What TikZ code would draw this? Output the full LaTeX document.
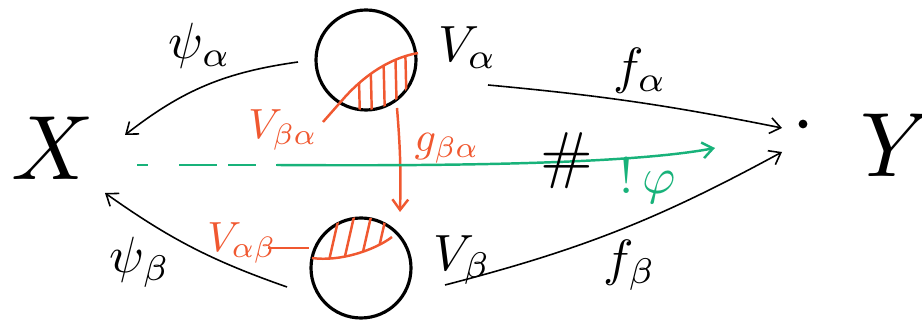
\documentclass[tikz,border=0pt]{standalone}
\usetikzlibrary{arrows.meta,calc}
\definecolor{penred}{RGB}{240,88,48}
\definecolor{pengreen}{RGB}{24,178,122}
\begin{document}
\begin{tikzpicture}[>={Straight Barb[length=6pt,width=9pt]},
	  ink/.style={line width=0.9pt},
	  redink/.style={line width=1.4pt,penred},
	  lab/.style={scale=2.9},
	  redlab/.style={scale=2.4,penred},
	  biglab/.style={scale=5.2},
	  set/.style={circle,draw,line width=1.8pt,minimum size=2cm,inner sep=0pt}]
	  \useasboundingbox (0,0) rectangle (18.44,-6.42);
	  % the two open sets
	  \node[set] (Va) at (7.32,-1.20) {};
	  \node[set] (Vb) at (7.22,-5.36) {};
	  \node[lab] (la) at (9.35,-0.95) {$V_\alpha$};
	  \node[lab] (lb) at (9.25,-5.20) {$V_\beta$};
	  % the spaces
	  \node[biglab] (X) at (1.05,-2.96) {$X$};
	  \node[biglab] (Y) at (17.95,-2.90) {$Y$};
	  \node[circle,fill,inner sep=0pt,minimum size=5pt] (pt) at (16.06,-2.48) {};
	  % maps to X
	  \coordinate (psa) at (5.96,-1.24);
	  \coordinate (psb) at (5.74,-5.74);
	  \coordinate (Xa) at (2.50,-2.70);
	  \coordinate (Xb) at (2.10,-3.86);
	  \draw[ink,->] (psa) to[out=188,in=38] (Xa);
	  \draw[ink,->] (psb) to[bend left=8] (Xb);
	  \node[lab] (psilab) at (4.00,-0.92) {$\psi_\alpha$};
	  \node[lab] (psiblab) at (2.80,-5.24) {$\psi_\beta$};
	  % maps to Y
	  \coordinate (fa) at (9.76,-1.70);
	  \coordinate (fb) at (8.90,-5.70);
	  \coordinate (Ya) at (15.64,-2.56);
	  \coordinate (Yb) at (15.64,-3.04);
	  \draw[ink,->] (fa) to[bend left=3] (Ya);
	  \draw[ink,->] (fb) to[bend right=7] (Yb);
	  \node[lab] (falab) at (12.80,-1.42) {$f_\alpha$};
	  \node[lab] (fblab) at (12.60,-5.30) {$f_\beta$};
	  % overlap in V_alpha
	  \node[redlab] (Vba) at (5.66,-2.60) {$V_{\beta\alpha}$};
	  \coordinate (vp) at (6.46,-2.44);
	  \coordinate (ha) at (6.90,-1.94);
	  \coordinate (hb) at (8.36,-1.06);
	  \draw[redink] (vp) -- (ha) .. controls (7.30,-1.50) and (7.80,-1.16) .. (hb);
	  \begin{scope}
	    \clip (Va.center) circle (1cm);
	    \clip (ha) .. controls (7.30,-1.50) and (7.80,-1.16) .. (hb) -- (8.6,-3) -- (6.6,-3) -- cycle;
	    \foreach \x in {7.16,7.40,7.66,7.90,8.10}
	      \draw[redink] (\x,-0.8) -- (\x+0.04,-2.4);
	  \end{scope}
	  % overlap in V_beta
	  \node[redlab] (Vab) at (4.84,-4.86) {$V_{\alpha\beta}$};
	  \coordinate (vq) at (5.36,-4.96);
	  \draw[redink] (vq) -- (Vb.west |- vq);
	  \coordinate (hc) at (6.24,-5.16);
	  \coordinate (hd) at (7.84,-4.74);
	  \draw[redink] (hc) .. controls (6.80,-5.24) and (7.50,-5.00) .. (hd);
	  \begin{scope}
	    \clip (Vb.center) circle (1.02cm);
	    \clip (hc) .. controls (6.80,-5.24) and (7.50,-5.00) .. (hd) -- (8.4,-4.0) -- (6.0,-4.0) -- cycle;
	    \foreach \x in {6.56,6.86,7.20,7.50}
	      \draw[redink] (\x,-5.3) -- (\x+0.25,-4.2);
	  \end{scope}
	  % transition map
	  \coordinate (gs) at (7.94,-2.16);
	  \coordinate (ge) at (8.00,-4.24);
	  \draw[redink,->] (gs) to[bend left=3] (ge);
	  \node[redlab] (glab) at (8.94,-2.96) {$g_{\beta\alpha}$};
	  % glued map
	  \coordinate (gl) at (2.74,-3.30);
	  \coordinate (gm) at (5.54,-3.30);
	  \coordinate (gr) at (14.30,-2.96);
	  \draw[pengreen,line width=1.4pt,dash pattern=on 0.22cm off 0.62cm on 0.76cm off 0.22cm on 0.56cm off 0.4cm] (gl) -- (gm);
	  \draw[pengreen,line width=1.4pt,->] (gm) .. controls (8.5,-3.32) and (12.5,-3.3) .. (gr);
	  \node[scale=3.6] (hash) at (11.34,-3.22) {$\#$};
	  \node[lab,pengreen] (philab) at (12.95,-3.62) {$!\,\varphi$};
\end{tikzpicture}
\end{document}
